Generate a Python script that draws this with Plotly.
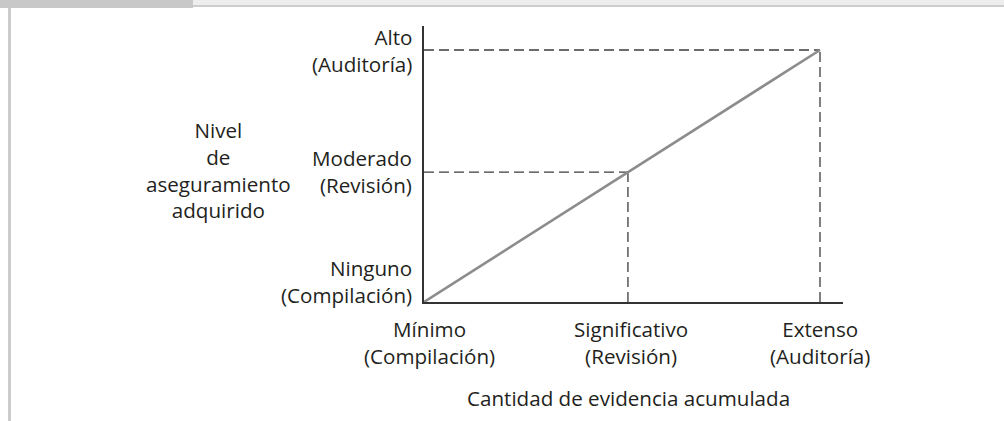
import plotly.graph_objects as go

# Data
evidence_levels = [0, 51.5, 100]          # cantidad de evidencia (relative)
assurance_levels = [0, 51.5, 100]         # nivel de aseguramiento (relative)
x_tick_labels = ["Mínimo<br>(Compilación)", "Significativo<br>(Revisión)", "Extenso<br>(Auditoría)"]
y_tick_labels = ["Ninguno<br>(Compilación)", "Moderado<br>(Revisión)", "Alto<br>(Auditoría)"]
x_title = "Cantidad de evidencia acumulada"
y_title = "Nivel<br>de<br>aseguramiento<br>adquirido"

W, H = 1004, 421
L, R, T, B = 424, 161, 26, 119
FONT = "Open Sans"
TXT = "#231f20"
FS = 20.6

fig = go.Figure()

# dashed reference lines
for i in (1, 2):
    fig.add_trace(go.Scatter(x=[evidence_levels[0], evidence_levels[i]], y=[assurance_levels[i]] * 2,
                             mode="lines", line=dict(color="#3c3c3c", width=1.3, dash="10px,5px"),
                             hoverinfo="skip", showlegend=False))
    fig.add_trace(go.Scatter(x=[evidence_levels[i]] * 2, y=[assurance_levels[0], assurance_levels[i]],
                             mode="lines", line=dict(color="#3c3c3c", width=1.3, dash="10px,5px"),
                             hoverinfo="skip", showlegend=False))

# main diagonal
fig.add_trace(go.Scatter(x=evidence_levels, y=assurance_levels, mode="lines",
                         line=dict(color="#8c8c8c", width=2.6), hoverinfo="skip", showlegend=False))

pw = W - L - R
ph = H - T - B
def px_x(p):
    return (p - L) / pw
def px_y(p):
    return (H - B - p) / ph

font = dict(family=FONT, size=FS, color=TXT)
annotations = []
# y tick labels
y_shifts = [21, 1, 0]
for val, lab, ys in zip(assurance_levels, y_tick_labels, y_shifts):
    annotations.append(dict(x=0, xref="x", y=val, yref="y", text=lab, showarrow=False,
                            xanchor="right", yanchor="middle", xshift=-10, yshift=ys, align="right",
                            font=font))
# x tick labels
x_shifts = [5, 3, 0]
for val, lab, xs in zip(evidence_levels, x_tick_labels, x_shifts):
    annotations.append(dict(x=val, xref="x", y=0, yref="y", text=lab, showarrow=False,
                            xanchor="center", yanchor="middle", xshift=xs, yshift=-40, align="center",
                            font=font))
# axis titles
annotations.append(dict(x=evidence_levels[1], xref="x", y=0, yref="y", text=x_title, showarrow=False,
                        xanchor="center", yanchor="middle", xshift=1, yshift=-96, font=font))
annotations.append(dict(x=px_x(218), xref="paper", y=assurance_levels[1], yref="y", text=y_title,
                        showarrow=False, xanchor="center", yanchor="middle", yshift=2, align="center",
                        font=font))

shapes = [
    # top light band
    dict(type="rect", xref="paper", yref="paper", x0=px_x(0), x1=px_x(W), y0=px_y(0), y1=px_y(5),
         fillcolor="#ededed", line=dict(width=0), layer="below"),
    dict(type="rect", xref="paper", yref="paper", x0=px_x(0), x1=px_x(W), y0=px_y(5), y1=px_y(7),
         fillcolor="#cdcdcd", line=dict(width=0), layer="below"),
    # top dark tab
    dict(type="rect", xref="paper", yref="paper", x0=px_x(0), x1=px_x(193), y0=px_y(0), y1=px_y(8),
         fillcolor="#c8c8c8", line=dict(width=0), layer="below"),
    # left border line
    dict(type="rect", xref="paper", yref="paper", x0=px_x(8), x1=px_x(11), y0=px_y(8), y1=px_y(H),
         fillcolor="#cccccc", line=dict(width=0), layer="below"),
]

fig.update_layout(
    width=W, height=H,
    margin=dict(l=L, r=R, t=T, b=B),
    paper_bgcolor="white", plot_bgcolor="white",
    xaxis=dict(range=[0, 100 * (843 - L) / (820 - L)], showgrid=False, zeroline=False,
               showticklabels=False, ticks="", showline=True, linecolor="#333333", linewidth=1.5,
               fixedrange=True),
    yaxis=dict(range=[0, 100 * (302 - 26) / (302 - 50)], showgrid=False, zeroline=False,
               showticklabels=False, ticks="", showline=True, linecolor="#333333", linewidth=1.5,
               fixedrange=True),
    annotations=annotations,
    shapes=shapes,
    showlegend=False,
)

fig.write_html("out.html", config={"displayModeBar": False},
               post_script="document.body.style.margin='0';document.body.style.overflow='hidden';")
